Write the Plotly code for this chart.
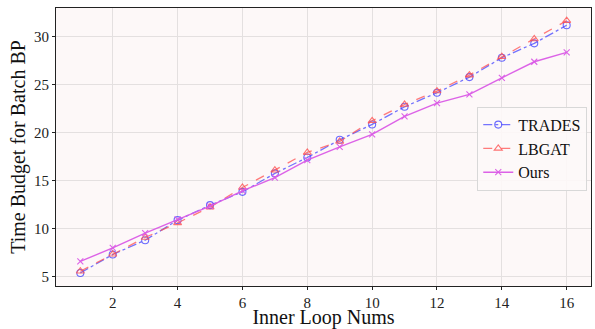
import plotly.graph_objects as go

inner_loop = list(range(1, 17))
trades = [5.35, 7.27, 8.76, 10.85, 12.41, 13.8, 15.72, 17.38, 19.22, 20.82, 22.66, 24.12, 25.75, 27.77, 29.27, 31.15]
lbgat = [5.53, 7.3, 9.04, 10.57, 12.2, 14.25, 16.05, 17.9, 19.05, 21.2, 22.9, 24.3, 25.96, 27.87, 29.72, 31.63]
ours = [6.55, 7.96, 9.5, 10.92, 12.3, 13.9, 15.28, 17.1, 18.49, 19.78, 21.66, 23.04, 23.95, 25.68, 27.35, 28.33]

x_ticks = [2, 4, 6, 8, 10, 12, 14, 16]
y_ticks = [5, 10, 15, 20, 25, 30]

font_family = "Liberation Serif, Times New Roman, serif"

fig = go.Figure()
fig.add_trace(go.Scatter(
    x=inner_loop, y=trades, name="TRADES", mode="lines+markers",
    line=dict(color="rgba(70,70,255,0.75)", width=1.3, dash="dashdot"),
    marker=dict(symbol="circle-open", size=7, color="rgba(70,70,255,0.8)", line=dict(width=1.1)),
))
fig.add_trace(go.Scatter(
    x=inner_loop, y=lbgat, name="LBGAT", mode="lines+markers",
    line=dict(color="rgba(255,80,80,0.75)", width=1.3, dash="dash"),
    marker=dict(symbol="triangle-up-open", size=7, color="rgba(255,80,80,0.8)", line=dict(width=1.1)),
))
fig.add_trace(go.Scatter(
    x=inner_loop, y=ours, name="Ours", mode="lines+markers",
    line=dict(color="rgba(218,90,230,0.95)", width=1.4),
    marker=dict(symbol="x-thin-open", size=6, color="rgba(218,90,230,0.95)", line=dict(width=1.1)),
))

fig.update_layout(
    width=595, height=329,
    margin=dict(l=56, r=4, t=8, b=43, autoexpand=False),
    paper_bgcolor="white",
    plot_bgcolor="#fdf8f8",
    font=dict(family=font_family, color="#222", size=15),
    showlegend=True,
    legend=dict(
        x=0.993, y=0.645, xanchor="right", yanchor="top",
        bgcolor="rgba(253,248,248,0.9)", bordercolor="#d8d8d8", borderwidth=1,
        font=dict(size=16, family=font_family, color="#111"),
        tracegroupgap=0, itemwidth=30,
    ),
)
fig.update_xaxes(
    automargin=True,
    range=[0.25, 16.75], tickvals=x_ticks, ticktext=[str(v) for v in x_ticks],
    tickfont=dict(size=15, family=font_family, color="#222"),
    title=dict(text="Inner Loop Nums", font=dict(size=20, family=font_family, color="#111"), standoff=3),
    showgrid=True, gridcolor="#e4e0e0", gridwidth=1,
    showline=True, linecolor="#222", linewidth=1.2, mirror=True,
    ticks="outside", ticklen=3, tickcolor="#222",
    zeroline=False,
)
fig.update_yaxes(
    automargin=False,
    range=[3.99, 32.95], tickvals=y_ticks, ticktext=[str(v) for v in y_ticks],
    tickfont=dict(size=15, family=font_family, color="#222"),
    title=dict(text="Time Budget for Batch BP", font=dict(size=20, family=font_family, color="#111"), standoff=2),
    showgrid=True, gridcolor="#e4e0e0", gridwidth=1,
    showline=True, linecolor="#222", linewidth=1.2, mirror=True,
    ticks="outside", ticklen=3, tickcolor="#222",
    zeroline=False,
)

fig.write_html(
    "out.html",
    config={"displayModeBar": False},
    post_script="document.body.style.margin='0';document.body.style.overflow='hidden';",
)
